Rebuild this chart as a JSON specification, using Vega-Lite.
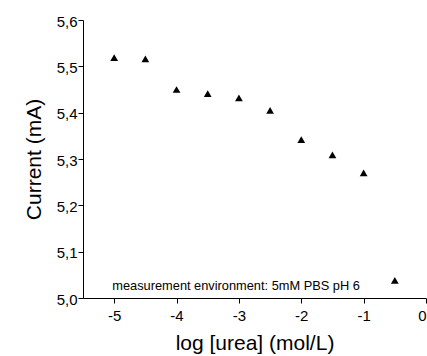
{
  "$schema": "https://vega.github.io/schema/vega-lite/v6.json",
  "autosize": "none",
  "padding": {"left": 83, "top": 20, "right": 1, "bottom": 58},
  "width": 343,
  "height": 278,
  "background": "white",
  "config": {
    "view": {"stroke": null},
    "font": "Liberation Sans",
    "axis": {
      "domainColor": "black",
      "domainWidth": 1,
      "tickColor": "black",
      "tickWidth": 1,
      "labelColor": "black",
      "titleColor": "black",
      "labelFont": "Liberation Sans",
      "titleFont": "Liberation Sans",
      "labelFontSize": 15,
      "titleFontSize": 21,
      "titleFontWeight": "normal",
      "grid": false
    }
  },
  "layer": [
    {
      "data": {
        "values": [
          {"logurea": -5.0, "current": 5.519},
          {"logurea": -4.5, "current": 5.516},
          {"logurea": -4.0, "current": 5.450},
          {"logurea": -3.5, "current": 5.441},
          {"logurea": -3.0, "current": 5.432},
          {"logurea": -2.5, "current": 5.405},
          {"logurea": -2.0, "current": 5.342},
          {"logurea": -1.5, "current": 5.309},
          {"logurea": -1.0, "current": 5.270},
          {"logurea": -0.5, "current": 5.038}
        ]
      },
      "mark": {"type": "point", "shape": "triangle-up", "filled": true, "color": "black", "opacity": 1, "size": 60},
      "encoding": {
        "x": {
          "field": "logurea", "type": "quantitative",
          "scale": {"domain": [-5.5, 0], "nice": false, "zero": false},
          "axis": {
            "title": "log [urea] (mol/L)",
            "values": [-5, -4.5, -4, -3.5, -3, -2.5, -2, -1.5, -1, -0.5, 0],
            "labelExpr": "datum.value % 1 === 0 ? toString(datum.value) : ''",
            "tickSize": {"condition": {"test": "datum.value % 1 === 0", "value": 5}, "value": 3},
            "labelPadding": 5,
            "titlePadding": 9
          }
        },
        "y": {
          "field": "current", "type": "quantitative",
          "scale": {"domain": [5.0, 5.6], "nice": false, "zero": false},
          "axis": {
            "title": "Current (mA)",
            "values": [5.0, 5.05, 5.1, 5.15, 5.2, 5.25, 5.3, 5.35, 5.4, 5.45, 5.5, 5.55, 5.6],
            "labelExpr": "abs(round(datum.value * 10) - datum.value * 10) < 0.001 ? replace(format(datum.value, '.1f'), '.', ',') : ''",
            "tickSize": {"condition": {"test": "abs(round(datum.value * 10) - datum.value * 10) < 0.001", "value": 5}, "value": 3},
            "labelPadding": 1,
            "labelOffset": 1,
            "titlePadding": 12
          }
        }
      }
    },
    {
      "data": {"values": [{"x": -5.03, "y": 5.026, "label": "measurement environment: 5mM PBS pH 6"}]},
      "mark": {"type": "text", "align": "left", "baseline": "middle", "fontSize": 12.8, "color": "black", "font": "Liberation Sans"},
      "encoding": {
        "x": {"field": "x", "type": "quantitative"},
        "y": {"field": "y", "type": "quantitative"},
        "text": {"field": "label"}
      }
    }
  ]
}
